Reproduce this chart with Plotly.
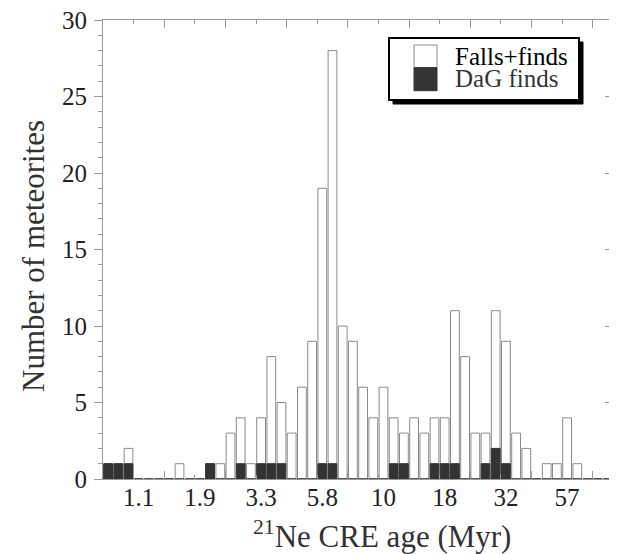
import plotly.graph_objects as go

# Bin index (log-spaced age bins), counts
bins = list(range(50))
falls_finds = [1, 1, 2, 0, 0, 0, 0, 1, 0, 0,
               1, 1, 3, 4, 1, 4, 8, 5, 3, 6,
               9, 19, 28, 10, 9, 6, 4, 6, 4, 3,
               4, 3, 4, 4, 11, 8, 3, 3, 11, 9,
               3, 2, 0, 1, 1, 4, 1, 0, 0, 0]
dag_finds = [1, 1, 1, 0, 0, 0, 0, 0, 0, 0,
             1, 0, 0, 1, 0, 1, 1, 1, 0, 0,
             0, 1, 1, 0, 0, 0, 0, 0, 1, 1,
             0, 0, 1, 1, 1, 0, 0, 1, 2, 1,
             0, 0, 0, 0, 0, 0, 0, 0, 0, 0]
tick_labels = ["1.1", "1.9", "3.3", "5.8", "10", "18", "32", "57"]
tick_label_bins = [3, 9, 15, 21, 27, 33, 39, 45]

FONT = "Liberation Serif"
OFF = 8  # default page body margin
W, H = 617 - OFF, 554 - OFF
PL, PR, PT, PB = 103, 613, 20, 479  # plot area in page pixels
L, R, T, B = PL - OFF, W - (PR - OFF), PT - OFF, H - (PB - OFF)
PW, PH = PR - PL, PB - PT

def px(x):
    return (x - PL) / PW

def py(y):
    return (PB - y) / PH

centers = [b + 0.5 for b in bins]

fig = go.Figure()
fig.add_trace(go.Bar(x=centers, y=falls_finds, width=0.86, name="Falls+finds",
                     marker=dict(color="white", line=dict(color="#8a8a8a", width=1)),
                     showlegend=False))
fig.add_trace(go.Bar(x=centers, y=dag_finds, width=0.86, name="DaG finds",
                     marker=dict(color="#333333", line=dict(color="#333333", width=1)),
                     showlegend=False))
# invisible helper trace for tick-only overlay axes
fig.add_trace(go.Scatter(x=[0, 50], y=[0, 0], xaxis="x2", yaxis="y2", mode="lines",
                         line=dict(color="rgba(0,0,0,0)"), hoverinfo="skip", showlegend=False))

axcol = "#9a9a9a"
fig.update_layout(
    width=W, height=H,
    margin=dict(l=L, r=R, t=T, b=B, autoexpand=False),
    paper_bgcolor="white", plot_bgcolor="white",
    barmode="overlay",
    font=dict(family=FONT, color="#222222"),
    xaxis=dict(range=[0, 50], tickvals=[b + 0.5 for b in tick_label_bins], ticktext=tick_labels,
               ticks="", showgrid=False, zeroline=False, showline=True, linecolor=axcol,
               linewidth=1, mirror=True, tickfont=dict(size=25, color="#222222"),
               ticklabelstandoff=-4, automargin=False, ticklabeloverflow="allow"),
    xaxis2=dict(range=[0, 50], overlaying="x", side="bottom", showticklabels=False,
                tickvals=list(range(0, 51, 6)), ticks="inside", ticklen=8, tickcolor=axcol,
                minor=dict(tickvals=list(range(3, 51, 6)), ticks="inside", ticklen=4, tickcolor=axcol),
                mirror="ticks", showgrid=False, zeroline=False, showline=False, automargin=False),
    yaxis=dict(range=[0, 30], dtick=5, ticks="outside", ticklen=8, tickcolor=axcol,
               minor=dict(dtick=1, ticks="outside", ticklen=4, tickcolor=axcol),
               showgrid=False, zeroline=False, showline=True, linecolor=axcol, linewidth=1,
               mirror=True, tickfont=dict(size=25, color="#222222"), ticklabelstandoff=2,
               automargin=False, ticklabeloverflow="allow"),
    yaxis2=dict(range=[0, 30], overlaying="y", side="right", showticklabels=False,
                dtick=5, ticks="inside", ticklen=8, tickcolor=axcol,
                minor=dict(dtick=1, ticks="inside", ticklen=4, tickcolor=axcol),
                showgrid=False, zeroline=False, showline=False, automargin=False),
)

fig.add_annotation(text="Number of meteorites", xref="paper", yref="paper",
                   x=px(33), y=py(256), showarrow=False, textangle=-90,
                   xanchor="center", yanchor="middle",
                   font=dict(size=31, color="#333333", family=FONT))
fig.add_annotation(text="<sup>21</sup>Ne CRE age (Myr)", xref="paper", yref="paper",
                   x=px(251), y=py(534), showarrow=False, xanchor="left", yanchor="middle",
                   font=dict(size=31, color="#333333", family=FONT))

# Legend box with drop shadow
shapes = [
    dict(type="rect", xref="paper", yref="paper", x0=px(393), x1=px(583), y0=py(104), y1=py(42),
         fillcolor="black", line=dict(color="black", width=1)),
    dict(type="rect", xref="paper", yref="paper", x0=px(389), x1=px(579), y0=py(100), y1=py(38),
         fillcolor="white", line=dict(color="black", width=2)),
    dict(type="rect", xref="paper", yref="paper", x0=px(414), x1=px(437), y0=py(67.7), y1=py(45),
         fillcolor="white", line=dict(color="#8a8a8a", width=1)),
    dict(type="rect", xref="paper", yref="paper", x0=px(414), x1=px(437), y0=py(90.7), y1=py(67.7),
         fillcolor="#333333", line=dict(color="#333333", width=1)),
]
fig.update_layout(shapes=shapes)
fig.add_annotation(text="Falls+finds", xref="paper", yref="paper", x=px(453), y=py(56),
                   xanchor="left", yanchor="middle", showarrow=False,
                   font=dict(size=25, color="black", family=FONT))
fig.add_annotation(text="DaG finds", xref="paper", yref="paper", x=px(453), y=py(78),
                   xanchor="left", yanchor="middle", showarrow=False,
                   font=dict(size=25, color="#333333", family=FONT))

fig.write_html("out.html")
